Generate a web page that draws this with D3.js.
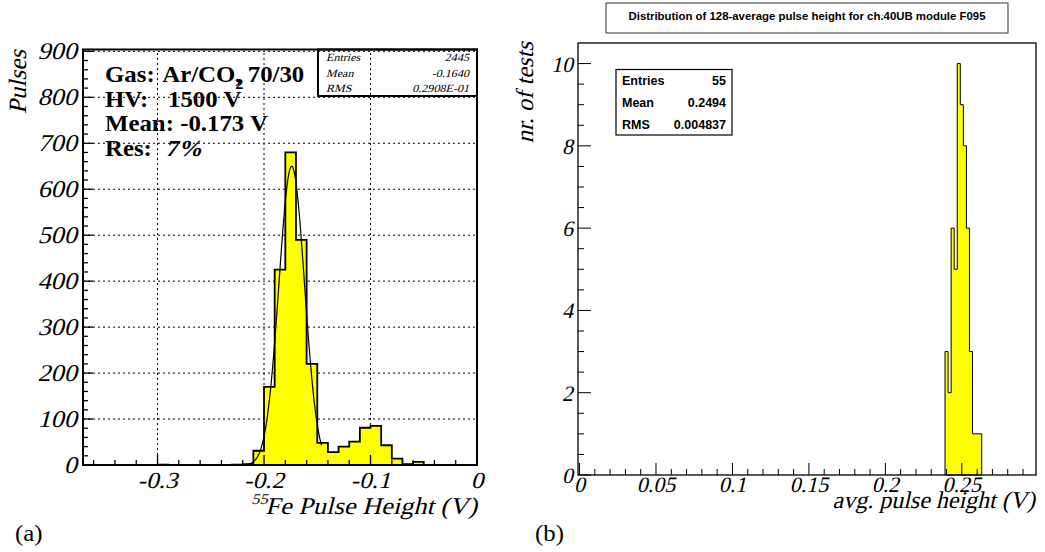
<!DOCTYPE html>
<html><head><meta charset="utf-8">
<script src="https://cdn.jsdelivr.net/npm/d3@7"></script>
<style>html,body{margin:0;padding:0;background:#fff;}svg{display:block;}</style>
</head><body>
<script>
// ---------- Data: panel (a) ----------
const binStartA = -0.37;           // first bin lower edge (V)
const binWidthA = 0.01;            // bin width (V)
const countsA = [0,0,0,0,0,0,0, 1, 0,0,0,0,0,0, 1,2,31,170,425,680,490,220,48,28,40,51,81,85,43,14,2,7, 0,0,0,0,0];
const fitA = {amp: 650, mean: -0.174, sigma: 0.012, from: -0.23, to: -0.146};
const statsA = [["Entries","2445"],["Mean","-0.1640"],["RMS","0.2908E-01"]];
const xTicksA = [-0.3,-0.2,-0.1,0];
const xTickLabelsA = ["-0.3","-0.2","-0.1","0"];
const yTicksA = [0,100,200,300,400,500,600,700,800,900];

// ---------- Data: panel (b) ----------
const binStartB = 0.239;
const binWidthB = 0.002;
const countsB = [3,2,6,5,10,9,8,6,3,1,1,1];
const statsB = [["Entries","55"],["Mean","0.2494"],["RMS","0.004837"]];
const xTicksB = [0,0.05,0.1,0.15,0.2,0.25];
const xTickLabelsB = ["0","0.05","0.1","0.15","0.2","0.25"];
const yTicksB = [0,2,4,6,8,10];
const titleB = "Distribution of 128-average pulse height for ch.40UB module F095";

const W = 1045, H = 552;
const svg = d3.select("body").append("svg").attr("width", W).attr("height", H);
const serif = "'Liberation Serif','Times New Roman',serif";
const sans = "'Liberation Sans',Arial,Helvetica,sans-serif";

// serif text with optional synthetic italic (skew), horizontal stretch and rotation
function stext(parent, x, y, str, size, opts) {
  const o = Object.assign({anchor: "start", italic: true, bold: false, sx: 1, rot: 0}, opts || {});
  let tr = `translate(${x},${y})`;
  if (o.rot) tr += ` rotate(${o.rot})`;
  if (o.sx !== 1) tr += ` scale(${o.sx},1)`;
  if (o.italic) tr += " skewX(-13)";
  const t = parent.append("g").attr("transform", tr).append("text")
    .attr("x", 0).attr("y", 0).attr("text-anchor", o.anchor)
    .attr("font-family", serif).attr("font-size", size);
  if (o.bold) t.attr("font-weight", "bold");
  if (str) t.text(str);
  return t;
}

// ================= Panel (a) =================
const SXA = 1.1;
const xA = d3.scaleLinear().domain([-0.37, 0]).range([83, 477]);
const yA = d3.scaleLinear().domain([0, 904]).range([465, 49.5]);
const gA = svg.append("g");

// grid
const gridA = gA.append("g").attr("stroke", "#000").attr("stroke-width", 1).attr("stroke-dasharray", "2,3");
xTicksA.slice(0, 3).forEach(v => gridA.append("line").attr("x1", xA(v)).attr("x2", xA(v)).attr("y1", yA(0)).attr("y2", yA(904)));
yTicksA.slice(1).forEach(v => gridA.append("line").attr("x1", xA(-0.37)).attr("x2", xA(0)).attr("y1", yA(v)).attr("y2", yA(v)));

// histogram
const edgeA = i => binStartA + i * binWidthA;
let areaA = `M${xA(edgeA(0))},${yA(0)}`;
countsA.forEach((c, i) => { areaA += `V${yA(c)}H${xA(edgeA(i + 1))}`; });
areaA += `V${yA(0)}Z`;
gA.append("path").attr("d", areaA).attr("fill", "#ffff00").attr("stroke", "none");
let lineA = `M${xA(edgeA(0))},${yA(0)}`;
countsA.forEach((c, i) => { lineA += `V${yA(c)}H${xA(edgeA(i + 1))}`; });
lineA += `V${yA(0)}`;
gA.append("path").attr("d", lineA).attr("fill", "none").attr("stroke", "#000").attr("stroke-width", 1.8);

// fit curve
const fitPts = d3.range(0, 201).map(k => {
  const x = fitA.from + (fitA.to - fitA.from) * k / 200;
  return [x, fitA.amp * Math.exp(-0.5 * Math.pow((x - fitA.mean) / fitA.sigma, 2))];
});
gA.append("path").datum(fitPts)
  .attr("d", d3.line().x(d => xA(d[0])).y(d => yA(d[1])))
  .attr("fill", "none").attr("stroke", "#000").attr("stroke-width", 1.2);

// ticks
const tickA = gA.append("g").attr("stroke", "#000").attr("stroke-width", 1.3);
d3.range(0, 46).map(i => i * 20).forEach(v => {
  const len = v % 100 === 0 ? 10 : 5;
  tickA.append("line").attr("x1", xA(-0.37)).attr("x2", xA(-0.37) + len).attr("y1", yA(v)).attr("y2", yA(v));
});
d3.range(0, 19).map(i => -0.36 + i * 0.02).forEach(v => {
  const isMaj = Math.abs(Math.round(v * 10) - v * 10) < 1e-6;
  const len = isMaj ? 10 : 5;
  tickA.append("line").attr("x1", xA(v)).attr("x2", xA(v)).attr("y1", yA(0)).attr("y2", yA(0) - len);
});

// frame
gA.append("rect").attr("x", 83).attr("y", 49.5).attr("width", 394).attr("height", 415.5)
  .attr("fill", "none").attr("stroke", "#000").attr("stroke-width", 2);

// tick labels
yTicksA.forEach(v => stext(gA, 77, yA(v) + 8, String(v), 24, {anchor: "end", sx: SXA}));
xTicksA.forEach((v, i) => stext(gA, xA(v), 488, xTickLabelsA[i], 23, {anchor: "middle", sx: SXA}));

// axis titles
stext(gA, 26, 50, "Pulses", 25, {anchor: "end", rot: -90});
const xtA = stext(gA, 477, 514, "", 24, {anchor: "end", sx: SXA});
xtA.append("tspan").attr("font-size", 15).attr("dy", -10).text("55");
xtA.append("tspan").attr("dy", 10).text("Fe Pulse Height (V)");

// stats box (transparent)
gA.append("rect").attr("x", 318).attr("y", 49.5).attr("width", 159).attr("height", 46.5)
  .attr("fill", "none").attr("stroke", "#000").attr("stroke-width", 2);
statsA.forEach((s, i) => {
  stext(gA, 326, 61 + i * 15.5, s[0], 11, {sx: SXA});
  stext(gA, 469, 61 + i * 15.5, s[1], 11, {anchor: "end", sx: SXA});
});

// annotations
const AB = {italic: false, bold: true, sx: 1.08};
const t1 = stext(gA, 105, 82, "", 23, AB);
t1.append("tspan").text("Gas:");
t1.append("tspan").attr("dx", 7).text("Ar/CO");
t1.append("tspan").attr("font-size", 15).attr("dy", 7).text("2");
t1.append("tspan").attr("dx", -7.5).attr("dy", -7).text(", 70/30");
stext(gA, 105, 106.5, "HV:", 23, AB);
stext(gA, 168, 106.5, "1500 V", 23, AB);
stext(gA, 105, 131, "Mean: -0.173 V", 23, AB);
stext(gA, 105, 156, "Res:", 23, AB);
stext(gA, 165, 156, "7%", 23, {italic: true, bold: true, sx: 1.08});

stext(svg, 15, 541, "(a)", 23, {italic: false, sx: 1.08});

// ================= Panel (b) =================
const xB = d3.scaleLinear().domain([-0.001, 0.2985]).range([578, 1036]);
const yB = d3.scaleLinear().domain([0, 10.5]).range([475, 43]);
const gB = svg.append("g");

const edgeB = i => binStartB + i * binWidthB;
let areaB = `M${xB(edgeB(0))},${yB(0)}`;
countsB.forEach((c, i) => { areaB += `V${yB(c)}H${xB(edgeB(i + 1))}`; });
areaB += `V${yB(0)}Z`;
gB.append("path").attr("d", areaB).attr("fill", "#ffff00").attr("stroke", "#000").attr("stroke-width", 1);

// frame
gB.append("rect").attr("x", 578).attr("y", 43).attr("width", 458).attr("height", 432)
  .attr("fill", "none").attr("stroke", "#000").attr("stroke-width", 1.3);

// ticks
const tickB = gB.append("g").attr("stroke", "#000").attr("stroke-width", 1);
d3.range(0, 21).map(i => i * 0.5).forEach(v => {
  const len = v % 2 === 0 ? 13 : 6;
  tickB.append("line").attr("x1", 578).attr("x2", 578 + len).attr("y1", yB(v)).attr("y2", yB(v));
});
d3.range(0, 30).map(i => i * 0.01).forEach((v, i) => {
  const len = i % 5 === 0 ? 12 : 6;
  tickB.append("line").attr("x1", xB(v)).attr("x2", xB(v)).attr("y1", yB(0)).attr("y2", yB(0) - len);
});

// tick labels
yTicksB.forEach(v => stext(gB, 573, yB(v) + 8, String(v), 22, {anchor: "end"}));
xTicksB.forEach((v, i) => stext(gB, xB(v), 492, xTickLabelsB[i], 22, {anchor: "middle"}));

// axis titles
stext(gB, 533, 42, "nr. of tests", 24.5, {anchor: "end", rot: -90});
stext(gB, 1035, 508, "avg. pulse height (V)", 24, {anchor: "end"});

// title box
gB.append("rect").attr("x", 606).attr("y", 3).attr("width", 402).attr("height", 30)
  .attr("fill", "#fff").attr("stroke", "#333").attr("stroke-width", 1);
gB.append("text").attr("x", 807).attr("y", 20).attr("text-anchor", "middle")
  .attr("font-family", sans).attr("font-weight", "bold").attr("font-size", 11.4).text(titleB);

// stats box
gB.append("rect").attr("x", 616).attr("y", 69.5).attr("width", 116).attr("height", 65.5)
  .attr("fill", "#fff").attr("stroke", "#000").attr("stroke-width", 1.2);
statsB.forEach((s, i) => {
  gB.append("text").attr("x", 622).attr("y", 85 + i * 22).attr("font-family", sans)
    .attr("font-weight", "bold").attr("font-size", 12.5).text(s[0]);
  gB.append("text").attr("x", 726).attr("y", 85 + i * 22).attr("text-anchor", "end").attr("font-family", sans)
    .attr("font-weight", "bold").attr("font-size", 12.5).text(s[1]);
});

stext(svg, 535, 541, "(b)", 23, {italic: false, sx: 1.08});
</script>
</body></html>
